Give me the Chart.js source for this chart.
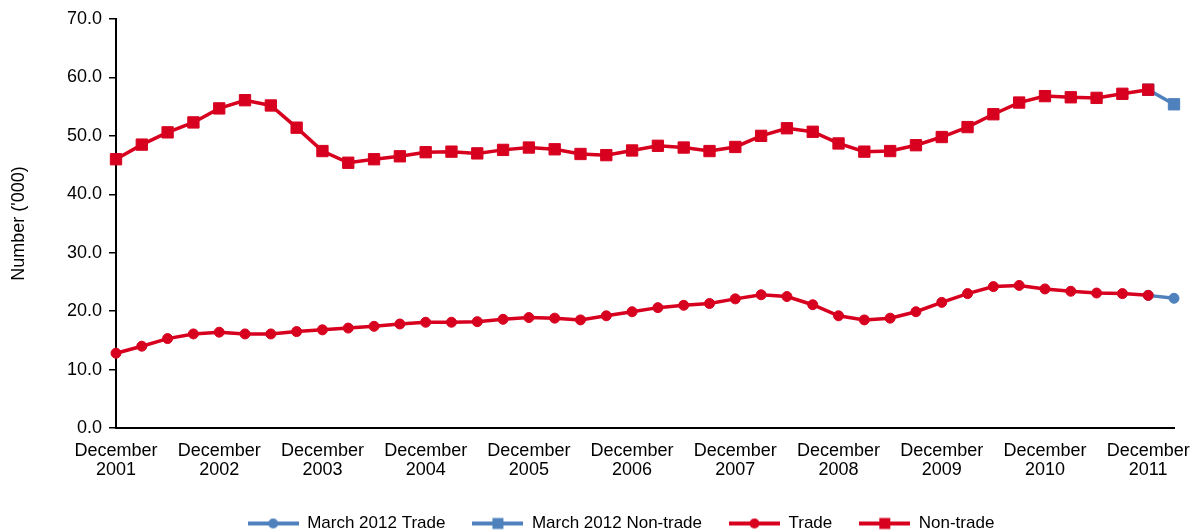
<!DOCTYPE html>
<html>
<head>
<meta charset="utf-8">
<script src="https://cdn.jsdelivr.net/npm/chart.js@4"></script>
<style>
  html, body { margin: 0; padding: 0; background: #fff; }
  #wrap { width: 1191px; height: 531px; position: relative; }
</style>
</head>
<body>
<div id="wrap"><canvas id="chart"></canvas></div>
<script>
const categories = [
  'December 2001', 'March 2002', 'June 2002', 'September 2002',
  'December 2002', 'March 2003', 'June 2003', 'September 2003',
  'December 2003', 'March 2004', 'June 2004', 'September 2004',
  'December 2004', 'March 2005', 'June 2005', 'September 2005',
  'December 2005', 'March 2006', 'June 2006', 'September 2006',
  'December 2006', 'March 2007', 'June 2007', 'September 2007',
  'December 2007', 'March 2008', 'June 2008', 'September 2008',
  'December 2008', 'March 2009', 'June 2009', 'September 2009',
  'December 2009', 'March 2010', 'June 2010', 'September 2010',
  'December 2010', 'March 2011', 'June 2011', 'September 2011',
  'December 2011', 'March 2012'
];

const trade = [
  12.8, 14.0, 15.3, 16.1, 16.4, 16.1, 16.1, 16.5, 16.8, 17.1,
  17.4, 17.8, 18.1, 18.1, 18.2, 18.6, 18.9, 18.8, 18.5, 19.2,
  19.9, 20.6, 21.0, 21.3, 22.1, 22.8, 22.5, 21.1, 19.2, 18.5,
  18.8, 19.9, 21.5, 23.0, 24.2, 24.4, 23.8, 23.4, 23.1, 23.0,
  22.7, null
];

const nonTrade = [
  46.0, 48.5, 50.6, 52.3, 54.7, 56.1, 55.2, 51.4, 47.4, 45.4,
  46.0, 46.5, 47.2, 47.3, 47.0, 47.6, 48.0, 47.7, 46.9, 46.7,
  47.5, 48.3, 48.0, 47.4, 48.1, 50.0, 51.3, 50.7, 48.7, 47.3,
  47.4, 48.4, 49.8, 51.5, 53.7, 55.7, 56.8, 56.6, 56.5, 57.2,
  57.9, null
];

// only the last link (December 2011 -> March 2012) is in the March 2012 series
const march2012Trade = new Array(40).fill(null).concat([22.7, 22.2]);
const march2012NonTrade = new Array(40).fill(null).concat([57.9, 55.4]);

const RED = '#D7001F';
const BLUE = '#4F81BD';
const FONT = "'Liberation Sans', Arial, sans-serif";

// legend order as in the picture: March 2012 Trade, March 2012 Non-trade, Trade, Non-trade
const legendRank = [2, 3, 0, 1];

function legendIcon(color, style) {
  const c = document.createElement('canvas');
  c.width = 51;
  c.height = 14;
  const g = c.getContext('2d');
  g.strokeStyle = color;
  g.lineWidth = 4;
  g.beginPath();
  g.moveTo(0, 7);
  g.lineTo(51, 7);
  g.stroke();
  g.fillStyle = color;
  if (style === 'rect') {
    g.fillRect(25.5 - 5.5, 7 - 5.5, 11, 11);
  } else {
    g.beginPath();
    g.arc(25.5, 7, 5, 0, Math.PI * 2);
    g.fill();
  }
  return c;
}

function series(label, data, color, style) {
  return {
    label: label,
    data: data,
    borderColor: color,
    backgroundColor: color,
    borderWidth: 3.5,
    pointStyle: style,
    pointRadius: style === 'rect' ? 8 : 5,
    pointBorderWidth: 1,
    pointBackgroundColor: color,
    pointBorderColor: color,
    tension: 0,
    spanGaps: false
  };
}

// fixed legend height, and the legend is centred a bit right of the canvas middle
const legendBox = {
  id: 'legendBox',
  beforeInit(chart) {
    const fit = chart.legend.fit;
    chart.legend.fit = function () {
      fit.call(this);
      this.height = 43;
    };
  },
  afterLayout(chart) {
    chart.legend.left = 68;
  }
};

new Chart(document.getElementById('chart'), {
  type: 'line',
  data: {
    labels: categories,
    datasets: [
      series('Trade', trade, RED, 'circle'),
      series('Non-trade', nonTrade, RED, 'rect'),
      series('March 2012 Trade', march2012Trade, BLUE, 'circle'),
      series('March 2012 Non-trade', march2012NonTrade, BLUE, 'rect')
    ]
  },
  options: {
    responsive: true,
    maintainAspectRatio: false,
    animation: false,
    layout: { padding: { top: 19, right: 17, left: 0, bottom: 0 } },
    plugins: {
      tooltip: { enabled: false },
      legend: {
        position: 'bottom',
        labels: {
          color: '#000',
          font: { family: FONT, size: 17 },
          usePointStyle: true,
          pointStyleWidth: 51,
          boxHeight: 14,
          padding: 27,
          sort: (a, b) => legendRank[a.datasetIndex] - legendRank[b.datasetIndex],
          generateLabels: chart => chart.data.datasets.map((ds, i) => ({
            text: ds.label,
            datasetIndex: i,
            pointStyle: legendIcon(ds.borderColor, ds.pointStyle),
            fillStyle: ds.borderColor,
            strokeStyle: ds.borderColor,
            lineWidth: 0,
            hidden: false,
            fontColor: '#000'
          }))
        }
      }
    },
    scales: {
      x: {
        offset: false,
        grid: { display: false },
        border: { display: true, color: '#000', width: 2 },
        afterFit: s => { s.height = 60; },
        ticks: {
          autoSkip: false,
          maxRotation: 0,
          padding: 6,
          color: '#000',
          font: { family: FONT, size: 18, lineHeight: 1.05 },
          callback: function (value, index) {
            const label = categories[index];
            return label.startsWith('December') ? label.split(' ') : '';
          }
        }
      },
      y: {
        min: 0,
        max: 70,
        afterFit: s => { s.width = 116; },
        grid: {
          display: true,
          drawOnChartArea: false,
          drawTicks: true,
          tickLength: 7,
          color: '#000',
          lineWidth: 1.5
        },
        border: { display: true, color: '#000', width: 2 },
        ticks: {
          stepSize: 10,
          padding: 7,
          color: '#000',
          font: { family: FONT, size: 18 },
          callback: v => v.toFixed(1)
        },
        title: {
          display: true,
          text: "Number ('000)",
          color: '#000',
          font: { family: FONT, size: 18 },
          padding: { top: 8, bottom: 0 }
        }
      }
    }
  },
  plugins: [legendBox]
});
</script>
</body>
</html>
